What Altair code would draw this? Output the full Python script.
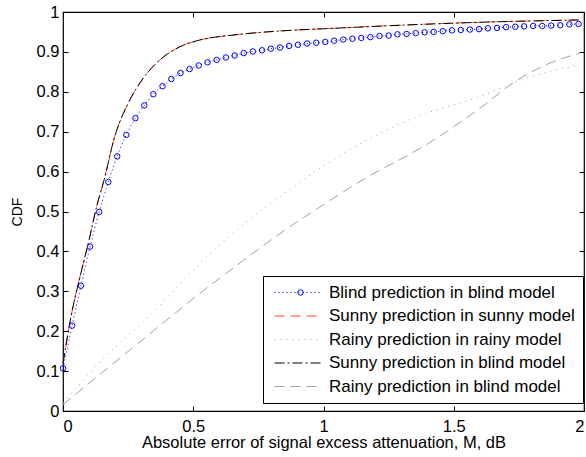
import altair as alt
import pandas as pd

labels = [
    "Blind prediction in blind model",
    "Sunny prediction in sunny model",
    "Rainy prediction in rainy model",
    "Sunny prediction in blind model",
    "Rainy prediction in blind model",
]
colors = ["#0000ff", "#ff4a26", "#d29b45", "#000000", "#a0a0a0"]
dashes = [[1, 3], [10, 6], [1, 5], [10, 3, 2, 3], [10, 6]]

blind_x = [0.0, 0.035, 0.069, 0.104, 0.139, 0.174, 0.208, 0.243, 0.278, 0.312,
           0.347, 0.382, 0.416, 0.451, 0.486, 0.521, 0.555, 0.590, 0.625, 0.659,
           0.694, 0.729, 0.764, 0.798, 0.833, 0.868, 0.902, 0.937, 0.972, 1.007,
           1.041, 1.076, 1.111, 1.145, 1.180, 1.215, 1.250, 1.284, 1.319, 1.354,
           1.388, 1.423, 1.458, 1.493, 1.527, 1.562, 1.597, 1.631, 1.666, 1.701,
           1.736, 1.770, 1.805, 1.840, 1.874, 1.909, 1.944, 1.979]
blind_y = [0.107, 0.214, 0.314, 0.412, 0.499, 0.574, 0.638, 0.692, 0.734, 0.766,
           0.794, 0.814, 0.832, 0.847, 0.857, 0.866, 0.874, 0.880, 0.886, 0.891,
           0.897, 0.901, 0.904, 0.908, 0.911, 0.915, 0.918, 0.921, 0.923, 0.925,
           0.928, 0.931, 0.933, 0.935, 0.937, 0.940, 0.941, 0.944, 0.945, 0.947,
           0.949, 0.950, 0.952, 0.954, 0.955, 0.956, 0.957, 0.959, 0.960, 0.962,
           0.963, 0.964, 0.965, 0.965, 0.966, 0.967, 0.969, 0.970]

sunny_x = [0.0, 0.033, 0.065, 0.097, 0.129, 0.161, 0.193, 0.257, 0.308, 0.372,
           0.449, 0.526, 0.65, 0.78, 0.9, 1.0, 1.3, 1.64, 1.98]
sunny_y = [0.12, 0.244, 0.336, 0.420, 0.512, 0.587, 0.675, 0.780, 0.834, 0.880,
           0.913, 0.930, 0.942, 0.950, 0.955, 0.958, 0.967, 0.975, 0.980]

sunnyb_x = [0.0, 0.033, 0.065, 0.097, 0.129, 0.161, 0.193, 0.257, 0.308, 0.372,
            0.449, 0.526, 0.65, 0.78, 0.9, 1.0, 1.3, 1.64, 1.98]
sunnyb_y = [0.12, 0.244, 0.336, 0.420, 0.512, 0.587, 0.675, 0.780, 0.834, 0.880,
            0.913, 0.930, 0.942, 0.950, 0.955, 0.958, 0.967, 0.975, 0.980]

rainy_x = [0.0, 0.181, 0.334, 0.526, 0.705, 0.832, 1.088, 1.344, 1.6, 1.779, 1.983]
rainy_y = [0.02, 0.148, 0.240, 0.370, 0.474, 0.537, 0.650, 0.734, 0.788, 0.834, 0.868]

rainyb_x = [0.0, 0.116, 0.27, 0.398, 0.526, 0.653, 0.78, 0.903, 0.96, 1.165,
            1.37, 1.472, 1.625, 1.727, 1.855, 1.983]
rainyb_y = [0.016, 0.078, 0.16, 0.228, 0.295, 0.358, 0.42, 0.476, 0.50, 0.585,
            0.658, 0.700, 0.771, 0.822, 0.868, 0.897]

x_ticks = [0, 0.5, 1, 1.5, 2]
y_ticks = [0, 0.1, 0.2, 0.3, 0.4, 0.5, 0.6, 0.7, 0.8, 0.9, 1]

series = [
    (labels[0], blind_x, blind_y),
    (labels[1], sunny_x, sunny_y),
    (labels[2], rainy_x, rainy_y),
    (labels[3], sunnyb_x, sunnyb_y),
    (labels[4], rainyb_x, rainyb_y),
]
rows = []
for name, xs, ys in series:
    for xv, yv in zip(xs, ys):
        rows.append({"series": name, "x": xv, "y": yv})
df = pd.DataFrame(rows)
df_blind = pd.DataFrame({"x": blind_x, "y": blind_y, "series2": labels[0]})

FONT = "Liberation Sans"
W, H = 521, 399

xscale = alt.Scale(domain=[0, 2], nice=False, zero=False)
yscale = alt.Scale(domain=[0, 1], nice=False, zero=False)

main_legend = alt.Legend(
    title=None, orient="none", legendX=200, legendY=264,
    symbolType="M-4,0H4", symbolSize=144, symbolOffset=19,
    symbolStrokeWidth=1, labelOffset=22, labelFont=FONT,
    labelFontSize=17, labelColor="black", labelLimit=400,
    padding=8, rowPadding=5.5, strokeColor="black", fillColor="white",
    cornerRadius=0,
)

lines = alt.Chart(df).mark_line(strokeWidth=1, interpolate="monotone").encode(
    x=alt.X("x:Q", scale=xscale, axis=alt.Axis(
        orient="bottom", values=x_ticks, format="~g", grid=False, domain=False,
        ticks=True, tickSize=5, tickColor="black", offset=-5, labelPadding=7,
        labelFont=FONT, labelFontSize=16.5, labelColor="black",
        title="Absolute error of signal excess attenuation, M, dB",
        titleFont=FONT, titleFontSize=16.5, titleFontWeight="normal",
        titleColor="black", titlePadding=0)),
    y=alt.Y("y:Q", scale=yscale, axis=alt.Axis(
        orient="left", values=y_ticks, format="~g", grid=False, domain=False,
        ticks=True, tickSize=5, tickColor="black", offset=-5, labelPadding=4,
        labelFont=FONT, labelFontSize=16.5, labelColor="black",
        title="CDF", titleFont=FONT, titleFontSize=14,
        titleFontWeight="normal", titleColor="black", titlePadding=12)),
    color=alt.Color("series:N", scale=alt.Scale(domain=labels, range=colors),
                    legend=main_legend),
    strokeDash=alt.StrokeDash("series:N", scale=alt.Scale(domain=labels, range=dashes),
                              legend=main_legend),
)

points = alt.Chart(df_blind).mark_point(
    filled=False, size=30, strokeWidth=1, color="#0000ff", opacity=1
).encode(
    x=alt.X("x:Q", scale=xscale, axis=None),
    y=alt.Y("y:Q", scale=yscale, axis=None),
    shape=alt.Shape("series2:N", scale=alt.Scale(domain=[labels[0]], range=["circle"]),
                    legend=alt.Legend(
                        title=None, orient="none", legendX=200, legendY=264,
                        symbolSize=30, symbolOffset=21, symbolStrokeColor="#0000ff",
                        symbolFillColor="transparent", symbolStrokeWidth=1,
                        labelExpr="''", labelFont=FONT, labelFontSize=17,
                        padding=8, rowPadding=5.5)),
)

mirror = alt.Chart(df_blind).mark_point(opacity=0).encode(
    x=alt.X("x:Q", scale=xscale, axis=alt.Axis(
        orient="top", values=x_ticks, labels=False, grid=False, domain=False,
        ticks=True, tickSize=5, tickColor="black", offset=-5, title=None)),
    y=alt.Y("y:Q", scale=yscale, axis=alt.Axis(
        orient="right", values=y_ticks, labels=False, grid=False, domain=False,
        ticks=True, tickSize=5, tickColor="black", offset=-5, title=None)),
)

chart = alt.layer(lines, points, mirror).resolve_axis(
    x="independent", y="independent"
).properties(
    width=W, height=H,
    autosize=alt.AutoSizeParams(type="none"),
    padding={"left": 63, "top": 12, "right": 2, "bottom": 46},
    background="white",
).configure_view(stroke="black", strokeWidth=1.2)

chart.save("out.html", embed_options={"renderer": "svg", "actions": False})
